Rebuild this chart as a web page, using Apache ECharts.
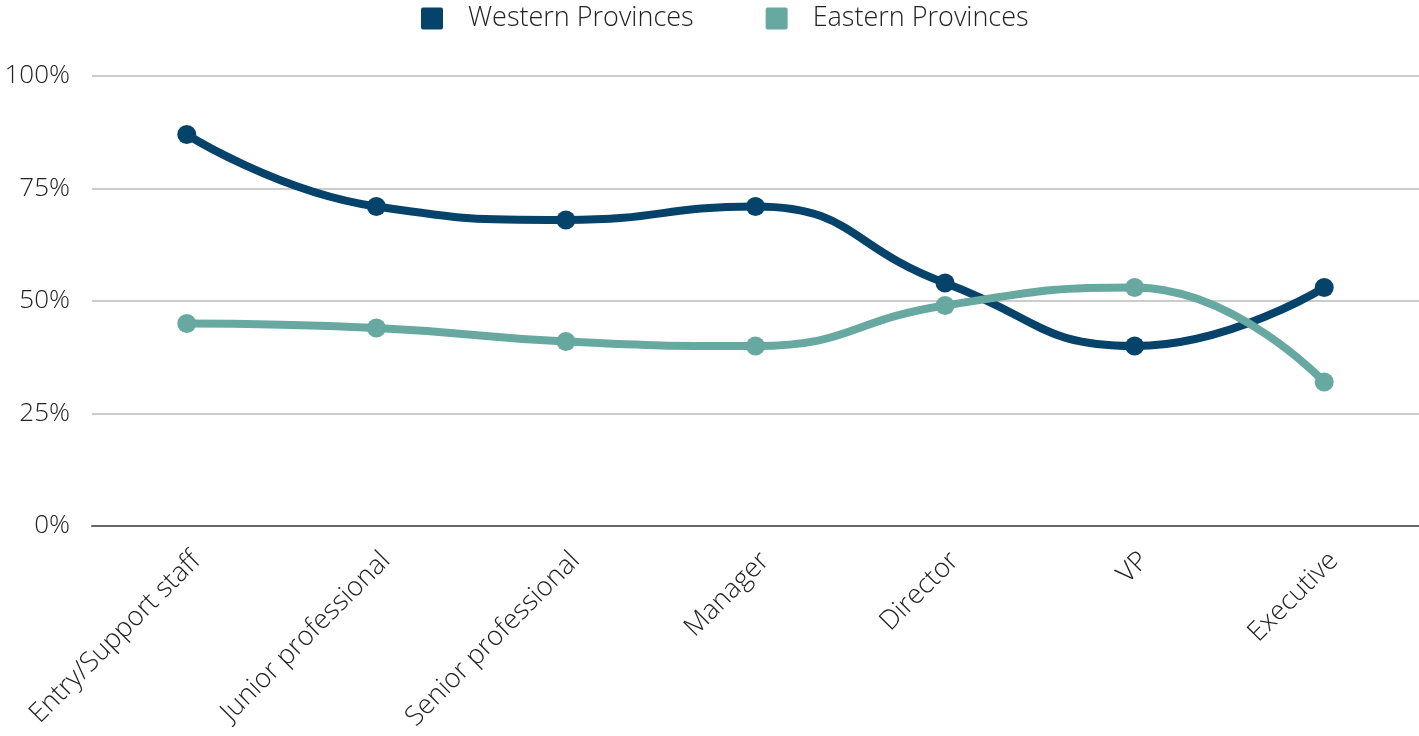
<!DOCTYPE html>
<html>
<head>
<meta charset="utf-8">
<script src="https://cdn.jsdelivr.net/npm/echarts@6/dist/echarts.min.js"></script>
<style>
  html, body { margin: 0; padding: 0; background: #fff; }
  #chart { width: 1419px; height: 736px; }
</style>
</head>
<body>
<div id="chart"></div>
<script>
// levels along the x axis
const categories = ['Entry/Support staff', 'Junior professional', 'Senior professional', 'Manager', 'Director', 'VP', 'Executive'];
// share per level, in percent
const western = [87, 71, 68, 71, 54, 40, 53];
const eastern = [45, 44, 41, 40, 49, 53, 32];
const yTicks = [0, 25, 50, 75, 100];

const font = '"Open Sans", sans-serif';
const chart = echarts.init(document.getElementById('chart'));

chart.setOption({
  animation: false,
  color: ['#05436a', '#67a9a1'],
  legend: {
    top: 0,
    left: 416,
    itemWidth: 22,
    itemHeight: 22,
    itemGap: 72,
    icon: 'path://M2,0 H20 Q22,0 22,2 V20 Q22,22 20,22 H2 Q0,22 0,20 V2 Q0,0 2,0 Z',
    textStyle: { fontFamily: font, fontWeight: 300, fontSize: 27, color: '#222', padding: [0, 0, 0, 20] },
    data: ['Western Provinces', 'Eastern Provinces']
  },
  grid: { left: 92, right: 0, top: 76, bottom: 210 },
  xAxis: {
    type: 'category',
    data: categories,
    axisTick: { show: false },
    axisLine: { lineStyle: { color: '#666', width: 2 } },
    axisLabel: {
      rotate: 45,
      margin: 21,
      verticalAlign: 'top',
      fontFamily: font,
      fontWeight: 300,
      fontSize: 27,
      color: '#222'
    }
  },
  yAxis: {
    type: 'value',
    min: yTicks[0],
    max: yTicks[yTicks.length - 1],
    interval: 25,
    axisLine: { show: false },
    axisTick: { show: false },
    splitLine: { lineStyle: { color: '#bbb', width: 1.5 } },
    axisLabel: {
      margin: 22,
      fontFamily: font,
      fontWeight: 300,
      fontSize: 26,
      color: '#222',
      formatter: v => v + '%'
    }
  },
  series: [
    {
      name: 'Western Provinces',
      type: 'line',
      smooth: 0.5,
      data: western,
      symbol: 'circle',
      symbolSize: 19,
      lineStyle: { width: 8 }
    },
    {
      name: 'Eastern Provinces',
      type: 'line',
      smooth: 0.5,
      data: eastern,
      symbol: 'circle',
      symbolSize: 19,
      lineStyle: { width: 8 }
    }
  ]
});
</script>
</body>
</html>
